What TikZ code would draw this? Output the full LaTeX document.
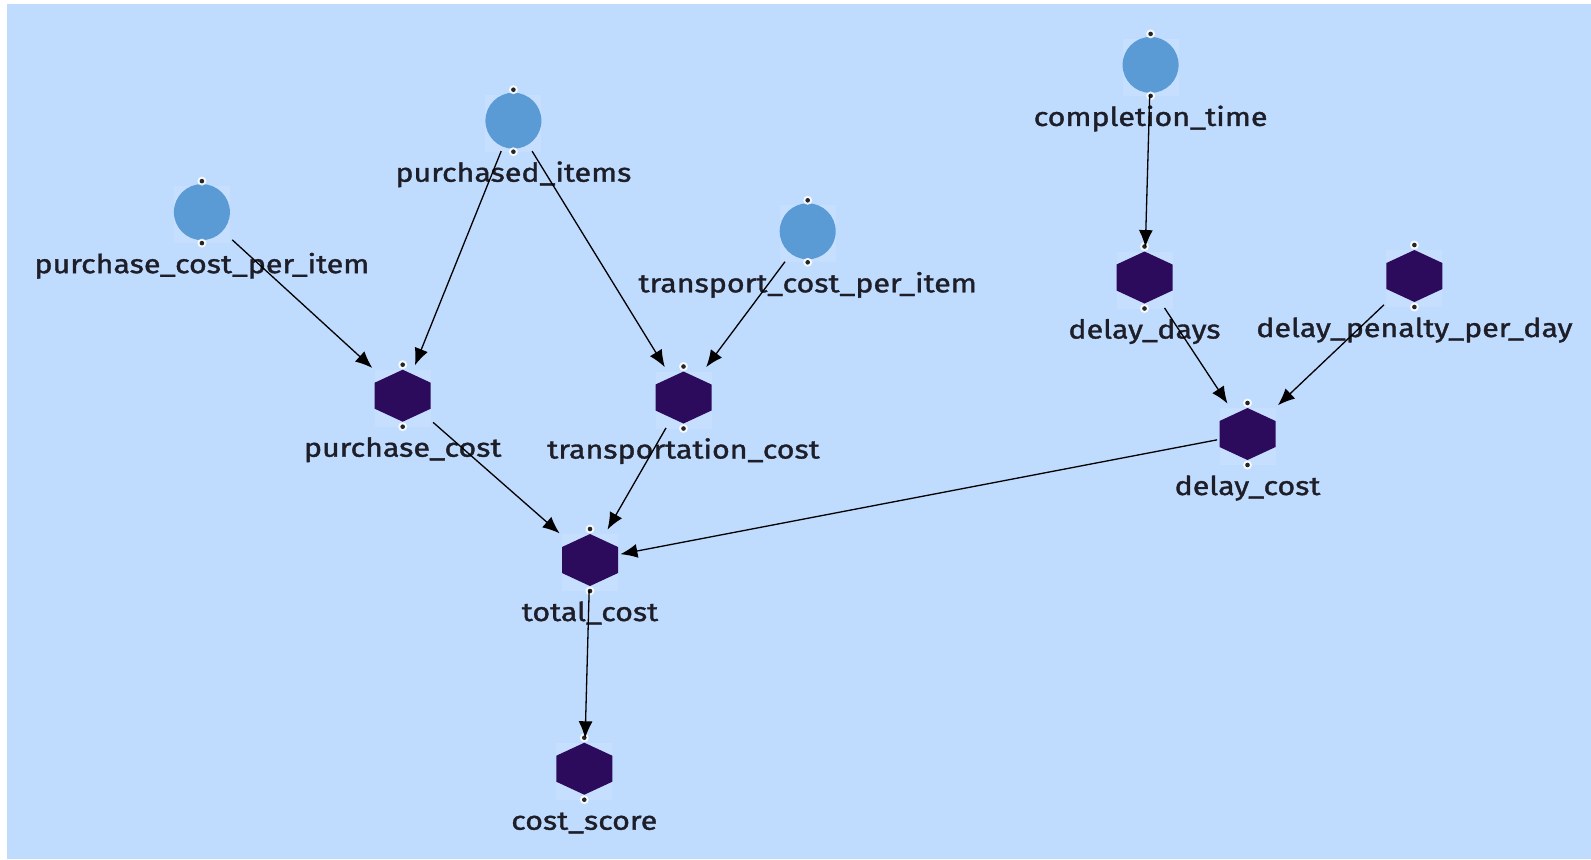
\documentclass[tikz,border=0pt]{standalone}
\usepackage{fontspec}
\newfontfamily\labfont[FakeBold=1.4,FakeStretch=1.17]{Fira Sans}
\usetikzlibrary{arrows.meta}
\definecolor{bg}{HTML}{BFDBFE}
\definecolor{circc}{HTML}{5B9BD5}
\definecolor{hexc}{HTML}{2C0A5C}
\definecolor{txt}{HTML}{1E1E28}
\newcommand\portdots{%
  \fill[white,opacity=.85] (0,-31) circle (4.5) (0,31) circle (4.5);
  \fill[black!85] (0,-31) circle (2.3) (0,31) circle (2.3);}
\newcommand\CircNode[4]{%
  \node[box] (#1) at (#2,#3) {};
  \begin{scope}[shift={(#2,#3)}]
    \fill[white,opacity=.12] (-28,-26) rectangle (28,31);
    \fill[circc] (0,0) circle (28);
    \portdots
  \end{scope}
  \node[lab] (#1-l) at (#2,#3+61) {#4};}
\newcommand\HexNode[4]{%
  \node[box] (#1) at (#2,#3) {};
  \begin{scope}[shift={(#2,#3)}]
    \fill[white,opacity=.12] (-28,-26) rectangle (28,31);
    \fill[hexc] (0,-26) -- (28,-13) -- (28,13) -- (0,26) -- (-28,13) -- (-28,-13) -- cycle;
    \portdots
  \end{scope}
  \node[lab] (#1-l) at (#2,#3+61) {#4};}
\begin{document}
\begin{tikzpicture}[x=0.5pt,y=-0.5pt,
  box/.style={inner sep=0pt, minimum width=30pt, minimum height=30pt},
  lab/.style={anchor=base, font=\labfont\fontsize{13}{15}\selectfont, text=txt, inner sep=0pt},
  edge/.style={draw=black, line width=0.65pt, -{Latex[length=8.5pt,width=7pt]}}]
\useasboundingbox (0,0) rectangle (1591,859);
\fill[white] (0,0) rectangle (1591,859);
\fill[bg] (7,4) rectangle (1591,859);

\CircNode{pi}{513.4}{120.7}{purchased\_items}
\CircNode{pci}{201.9}{212.1}{purchase\_cost\_per\_item}
\CircNode{tci}{807.7}{231.3}{transport\_cost\_per\_item}
\CircNode{ct}{1150.6}{64.9}{completion\_time}
\HexNode{dd}{1144.5}{277.5}{delay\_days}
\HexNode{dpd}{1414.4}{276}{delay\_penalty\_per\_day}
\HexNode{pc}{402.7}{395.7}{purchase\_cost}
\HexNode{tc}{683.5}{397.5}{transportation\_cost}
\HexNode{dc}{1247.5}{434}{delay\_cost}
\HexNode{tot}{590}{560}{total\_cost}
\HexNode{cs}{584.3}{768.7}{cost\_score}

\draw[edge] (pci) -- (pc);
\draw[edge] (pi) -- (pc);
\draw[edge] (pi) -- (tc);
\draw[edge] (tci) -- (tc);
\draw[edge] (ct) -- (dd);
\draw[edge] (dd) -- (dc);
\draw[edge] (dpd) -- (dc);
\draw[edge] (pc) -- (tot);
\draw[edge] (tc) -- (tot);
\draw[edge] (dc) -- (tot);
\draw[edge] (tot) -- (cs);
\end{tikzpicture}
\end{document}
